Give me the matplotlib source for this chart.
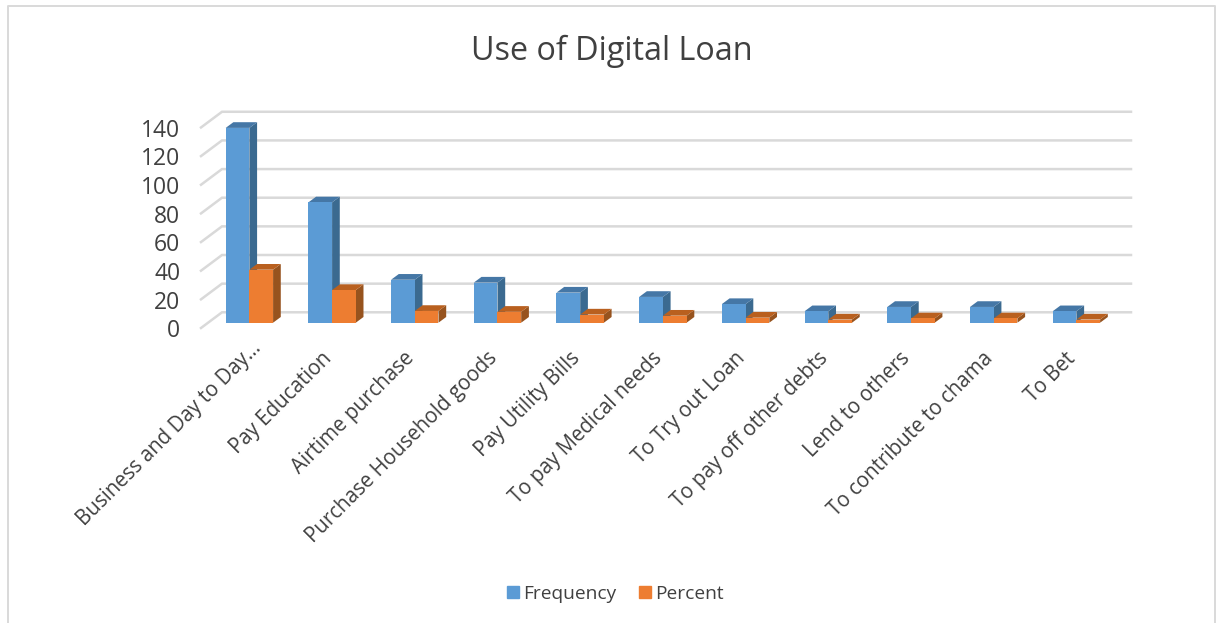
import matplotlib
matplotlib.use('Agg')
import matplotlib.pyplot as plt
from matplotlib.patches import Rectangle
from matplotlib.transforms import ScaledTranslation

categories = ['Business and Day to Day…', 'Pay Education', 'Airtime purchase',
              'Purchase Household goods', 'Pay Utility Bills', 'To pay Medical needs',
              'To Try out Loan', 'To pay off other debts', 'Lend to others',
              'To contribute to chama', 'To Bet']
frequency = [136, 84, 30, 28, 21, 18, 13, 8, 11, 11, 8]
percent = [37, 22.8, 8.2, 7.6, 5.7, 4.9, 3.5, 2.2, 3, 3, 2.2]
y_ticks = [0, 20, 40, 60, 80, 100, 120, 140]

plt.rcParams['font.family'] = ['Open Sans', 'DejaVu Sans']
text_col = '#404040'

fig = plt.figure(figsize=(12.16, 6.23), dpi=100)
W, H = 1216.0, 623.0
ax = fig.add_axes([201 / W, (H - 328) / H, 930 / W, 217 / H])

# pixels per data unit, used for the fake 3d depth
px_x = 82.7
px_y = 1.4325
ax.set_xlim(-0.585, 10.66)
ax.set_ylim(-3.7, 147.8)
for s in ax.spines.values():
    s.set_visible(False)

# back wall and left wall gridlines
wall_dx = 21 / px_x
wall_dy = 15.7 / px_y
x0 = -0.585
for v in y_ticks:
    ax.plot([x0, x0 + wall_dx, 10.66], [v - 3.7, v - 3.7 + wall_dy, v - 3.7 + wall_dy],
            color='#d9d9d9', lw=1.8, zorder=1, clip_on=False, solid_joinstyle='miter')

bw = 23.7 / px_x
dx = 7.7 / px_x
dy = 5.7 / px_y


def bar3d(x, h, front, side, top, z):
    ax.bar(x, h, width=bw, align='edge', color=front, zorder=z + 1, lw=0)
    ax.fill([x + bw, x + bw + dx, x + bw + dx, x + bw], [0, dy, h + dy, h],
            color=side, lw=0, zorder=z)
    ax.fill([x, x + dx, x + bw + dx, x + bw], [h, h + dy, h + dy, h],
            color=top, lw=0, zorder=z)


for i in range(len(categories)):
    bar3d(i - bw, frequency[i], '#5b9bd5', '#3b6a90', '#4577a6', 3 + i * 4)
    bar3d(i, percent[i], '#ed7d31', '#97531e', '#b9601f', 5 + i * 4)

ax.set_xticks(range(len(categories)))
ax.set_xticklabels(categories, rotation=45, ha='right', va='top', rotation_mode='anchor',
                   fontsize=14.8, color=text_col)
ax.set_yticks(y_ticks)
ax.set_yticklabels([str(v) for v in y_ticks], fontsize=16.5, color=text_col)
ax.tick_params(length=0, axis='both')
ax.tick_params(axis='x', pad=12)
ax.tick_params(axis='y', pad=15)
shift = ScaledTranslation(0, -4 / 72, fig.dpi_scale_trans)
for lab in ax.get_yticklabels():
    lab.set_transform(lab.get_transform() + shift)
# the truncated first label sits further right than the others
for i, lab in enumerate(ax.get_xticklabels()):
    off = (1, 5) if i == 0 else (-8, -2.4)
    lab.set_transform(lab.get_transform() + ScaledTranslation(off[0] / 72, off[1] / 72, fig.dpi_scale_trans))

fig.text(612 / W, 1 - 51 / H, 'Use of Digital Loan', fontsize=23.3, color=text_col,
         ha='center', va='center')

handles = [Rectangle((0, 0), 1, 1, color='#5b9bd5'), Rectangle((0, 0), 1, 1, color='#ed7d31')]
fig.legend(handles, ['Frequency', 'Percent'], loc='center', bbox_to_anchor=(615.5 / W, 1 - 594 / H),
           ncol=2, frameon=False, fontsize=13.8, labelcolor=text_col, handlelength=0.62,
           handleheight=0.62, handletextpad=0.22, columnspacing=1.15)

# outer frame of the chart, cut off at the bottom
fig.add_artist(plt.Line2D([8.3 / W, 8.3 / W, 1214.5 / W, 1214.5 / W], [0, 1 - 6 / H, 1 - 6 / H, 0],
                          color='#d9d9d9', lw=1.4))

fig.savefig('out.png', dpi=100)
